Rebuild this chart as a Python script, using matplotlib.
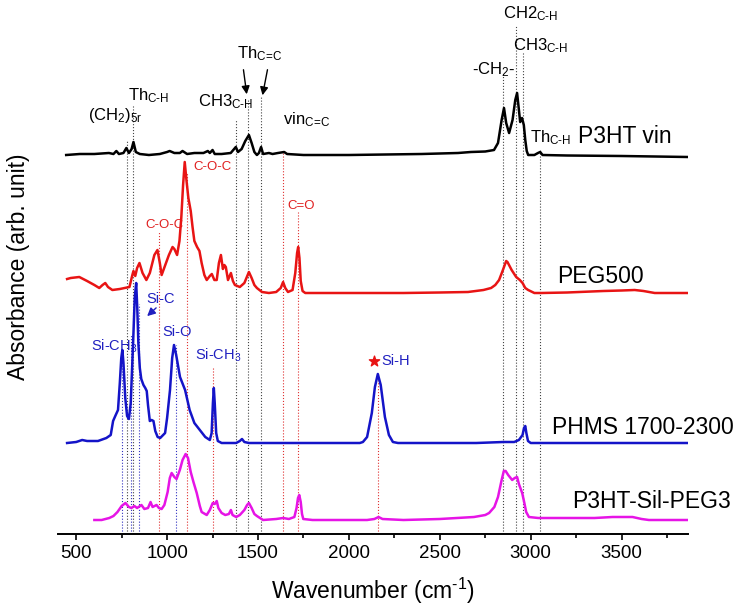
import matplotlib
matplotlib.use("Agg")
import matplotlib.pyplot as plt
from matplotlib.ticker import MultipleLocator

plt.rcParams["font.family"] = ["Liberation Sans", "DejaVu Sans"]
plt.rcParams["mathtext.fontset"] = "custom"
plt.rcParams["mathtext.rm"] = "Liberation Sans"
plt.rcParams["mathtext.it"] = "Liberation Sans:italic"
plt.rcParams["mathtext.bf"] = "Liberation Sans:bold"

# FTIR spectra (arb. units, each relative to its own baseline)
p3ht_wn = [445, 520, 600, 680, 705, 721, 735, 760, 776, 790, 805, 815, 828, 850, 900,
           960, 1000, 1014, 1040, 1070, 1085, 1110, 1150, 1200, 1224, 1235, 1250, 1262,
           1300, 1350, 1378, 1390, 1410, 1430, 1450, 1465, 1480, 1494, 1505, 1517, 1528,
           1560, 1580, 1610, 1644, 1660, 1750, 2000, 2200, 2400, 2600, 2671, 2750, 2798,
           2820, 2840, 2853, 2865, 2881, 2900, 2915, 2925, 2935, 2942, 2952, 2962, 2970,
           2978, 2986, 3020, 3040, 3052, 3065, 3200, 3500, 3865]
p3ht_abs = [0, 1, 1, 2, 1, 4, 1, 2, 7, 2, 6, 13, 3, 1, 0,
            1, 3, 4, 2, 2, 4, 1, 2, 2, 4, 2, 5, 1,
            1, 2, 8, 3, 6, 14, 20, 12, 3, 0, 2, 8, 1,
            2, 1, 2, 3, 1, 0, 0, 0.5, 1, 2, 3, 3.5, 5,
            12, 35, 47, 32, 22, 35, 55, 62, 45, 33, 37, 30, 15,
            4, 0, 0, 2, 3, 0, -0.5, -1, -2]

peg_wn = [450, 470, 517, 560, 600, 627, 645, 660, 675, 699, 740, 793, 809, 815, 825,
          835, 848, 865, 886, 905, 930, 947, 960, 970, 990, 1010, 1030, 1040, 1055,
          1068, 1078, 1088, 1097, 1107, 1117, 1130, 1140, 1150, 1165, 1178, 1190, 1205,
          1218, 1235, 1246, 1260, 1273, 1285, 1296, 1307, 1315, 1323, 1335, 1351, 1362,
          1373, 1400, 1425, 1450, 1465, 1480, 1494, 1522, 1560, 1600, 1625, 1638, 1650,
          1665, 1690, 1705, 1715, 1721, 1728, 1735, 1745, 1760, 2000, 2300, 2500, 2655,
          2740, 2782, 2805, 2826, 2845, 2865, 2872, 2895, 2920, 2940, 2955, 2970, 2986,
          3020, 3058, 3200, 3400, 3500, 3572, 3620, 3682, 3865]
peg_abs = [14, 15, 16, 12, 8, 5, 8, 10, 6, 3, 4, 6, 18, 22, 17,
           25, 30, 20, 13, 20, 38, 43, 30, 18, 28, 38, 46, 44, 38,
           52, 75, 108, 131, 112, 95, 82, 66, 52, 46, 42, 30, 18,
           13, 17, 19, 13, 13, 30, 38, 24, 28, 26, 13, 20, 12,
           8, 6, 10, 21, 15, 8, 5, 1, 0, 1, 5, 11, 5,
           1, 3, 20, 40, 46, 35, 12, 2, 0, 0, 0, 0.5, 1,
           3, 5, 8, 13, 22, 32, 31, 23, 16, 13, 10, 5, 3,
           0, 0, 0.5, 2, 2.5, 3, 2, 0, 0]

phms_wn = [450, 500, 533, 560, 620, 666, 690, 703, 715, 730, 740, 748, 754, 760, 770,
           780, 790, 800, 812, 822, 830, 836, 842, 850, 858, 870, 880, 888, 895, 905,
           915, 925, 935, 948, 962, 989, 1000, 1016, 1028, 1038, 1050, 1071, 1099, 1124,
           1150, 1180, 1210, 1235, 1245, 1252, 1257, 1262, 1270, 1279, 1300, 1380, 1400,
           1412, 1425, 1450, 1800, 2060, 2077, 2100, 2126, 2143, 2159, 2175, 2198, 2220,
           2242, 2270, 2700, 2850, 2909, 2935, 2955, 2963, 2970, 2976, 2985, 3000, 3865]
phms_abs = [0, 1, 3, 2, 2, 5, 8, 22, 27, 33, 60, 85, 93, 80, 45,
            27, 24, 40, 95, 145, 160, 135, 100, 75, 64, 58, 55, 52, 38, 22,
            23, 22, 12, 6, 5, 10, 25, 53, 85, 98, 88, 66, 53, 33,
            20, 13, 6, 3, 10, 40, 55, 40, 10, 2, 0, 0, 2,
            4, 1, 0, 0, 0, 1, 6, 30, 56, 69, 58, 26, 8,
            1, 0, 0, 1, 1, 3, 8, 15, 17, 10, 2, 0, 0]

sil_wn = [600, 640, 682, 705, 727, 750, 771, 790, 804, 820, 835, 859, 875, 895, 909,
          920, 942, 955, 970, 985, 1003, 1015, 1025, 1040, 1052, 1070, 1085, 1102, 1115,
          1130, 1145, 1163, 1180, 1190, 1218, 1235, 1251, 1262, 1273, 1282, 1300, 1320,
          1340, 1351, 1360, 1380, 1400, 1425, 1440, 1450, 1465, 1480, 1494, 1528, 1600,
          1638, 1670, 1700, 1712, 1720, 1727, 1735, 1742, 1749, 1800, 2100, 2140, 2163,
          2185, 2300, 2500, 2688, 2750, 2771, 2800, 2820, 2840, 2852, 2862, 2876, 2898,
          2912, 2925, 2935, 2953, 2965, 2975, 2990, 3041, 3200, 3351, 3450, 3560, 3610,
          3650, 3865]
sil_abs = [0, 0, 2, 4, 8, 14, 17, 13, 12, 14, 12, 15, 11, 12, 18,
           13, 15, 12, 11, 15, 28, 42, 47, 43, 41, 50, 60, 66, 62,
           48, 38, 27, 14, 8, 5, 10, 17, 16, 19, 12, 7, 5,
           6, 10, 5, 3, 5, 10, 15, 17, 12, 6, 4, 0, 1,
           2, 1, 3, 12, 22, 25, 18, 6, 1, 0, 0, 1, 3,
           1, 0, 1, 3, 5, 7, 13, 23, 40, 49, 49, 45, 40,
           42, 43, 36, 27, 17, 8, 3, 2, 2, 2, 3, 3, 1,
           0, 0]

series_wn = [p3ht_wn, peg_wn, phms_wn, sil_wn]
series_abs = [p3ht_abs, peg_abs, phms_abs, sil_abs]
series_offset = [379, 241, 91, 14]
series_names = ["P3HT vin", "PEG500", "PHMS 1700-2300", "P3HT-Sil-PEG3"]
series_colors = ["black", "#e81414", "#1414c8", "#e614e6"]
name_pos = [(3258, 391), (3143, 251), (3115, 100), (3225, 26)]

# band assignments: (wavenumber, top of the guide line)
black_bands = [(780, 394), (815, 429), (1378, 414), (1445, 434), (1517, 437),
               (2850, 462), (2920, 509), (2955, 482), (3050, 384)]
red_bands = [(953, 302), (1108, 362), (1255, 167), (1638, 381), (1722, 322), (2160, 160)]
blue_bands = [(752, 181), (800, 200), (845, 230), (1050, 189)]

HY = "\u2010"
CC = r"\mathrm{C}\!=\!\mathrm{C}"
black_labels = [
    (566, 414, r"(CH$_\mathrm{2}$)$_\mathrm{5r}$"),
    (786, 434, r"Th$_\mathrm{C" + HY + "H}$"),
    (1170, 428, r"CH3$_\mathrm{C" + HY + "H}$"),
    (1385, 476, "Th$_{" + CC + "}$"),
    (1637, 410, "vin$_{" + CC + "}$"),
    (2676, 460, HY + r"CH$_\mathrm{2}$" + HY),
    (2846, 516, r"CH2$_\mathrm{C" + HY + "H}$"),
    (2901, 484, r"CH3$_\mathrm{C" + HY + "H}$"),
    (2995, 392, r"Th$_\mathrm{C" + HY + "H}$"),
]
red_labels = [(1143, 364, "C-O-C"), (879, 306, "C-O-C"), (1659, 325, "C=O")]
blue_labels = [(582, 183, r"Si-CH$_\mathrm{3}$"), (885, 231, "Si-C"), (973, 198, "Si-O"),
               (1154, 174, r"Si-CH$_\mathrm{3}$"), (2181, 169, "Si-H")]

fig = plt.figure(figsize=(7.43, 6.13), dpi=100)
ax = fig.add_axes([58 / 743, 79 / 613, 630 / 743, 534 / 613])

for x, top in black_bands:
    ax.plot([x, x], [0, top], ls=":", lw=0.8, color="#444444", zorder=1)
for x, top in red_bands:
    ax.plot([x, x], [0, top], ls=":", lw=0.8, color="#e03030", zorder=1)
for x, top in blue_bands:
    ax.plot([x, x], [0, top], ls=":", lw=0.8, color="#3030c0", zorder=1)

for wn, ab, off, c in zip(series_wn, series_abs, series_offset, series_colors):
    ax.plot(wn, [a + off for a in ab], color=c, lw=1.8, zorder=3)

for (x, y), name in zip(name_pos, series_names):
    ax.text(x, y, name, fontsize=16.5, va="baseline", ha="left")

for x, y, s in black_labels:
    ax.text(x, y, s, fontsize=12, va="baseline", ha="left", color="black", zorder=2)
for x, y, s in red_labels:
    ax.text(x, y, s, fontsize=9.5, va="baseline", ha="left", color="#e02020", zorder=2)
for x, y, s in blue_labels:
    ax.text(x, y, s, fontsize=10.5, va="baseline", ha="left", color="#2020c0", zorder=2)

ax.scatter([2137], [173], marker="*", s=60, color="#e81414", zorder=4)

arrow = dict(arrowstyle="-|>", color="black", lw=1, mutation_scale=12)
ax.annotate("", xy=(1440, 437), xytext=(1418, 467), arrowprops=arrow)
ax.annotate("", xy=(1522, 436), xytext=(1555, 467), arrowprops=arrow)
ax.annotate("", xy=(879, 216), xytext=(951, 228),
            arrowprops=dict(arrowstyle="-|>", color="#2020c0", lw=1, mutation_scale=12))

ax.set_xlim(400, 3865)
ax.set_ylim(0, 534)
for side in ["left", "right", "top"]:
    ax.spines[side].set_visible(False)
ax.spines["bottom"].set_linewidth(1.4)
ax.set_yticks([])
ax.xaxis.set_major_locator(MultipleLocator(500))
ax.xaxis.set_minor_locator(MultipleLocator(250))
ax.tick_params(axis="x", which="major", direction="out", length=4.5, width=1.2, labelsize=13.5)
ax.tick_params(axis="x", which="minor", direction="out", length=3, width=1.2)
ax.set_xlabel("Wavenumber (cm$^{" + HY + "1}$)", fontsize=16.5, labelpad=10)
ax.set_ylabel("Absorbance (arb. unit)", fontsize=16.5, labelpad=20)

fig.savefig("out.png", dpi=100)
